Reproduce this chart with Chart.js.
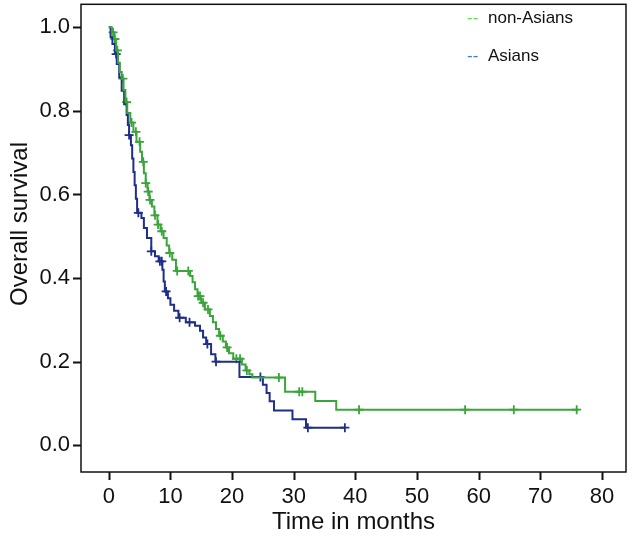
<!DOCTYPE html>
<html>
<head>
<meta charset="utf-8">
<script src="https://cdn.jsdelivr.net/npm/chart.js@4"></script>
<style>
html, body { margin: 0; padding: 0; background: #fff; overflow: hidden; }
/* shifted up 2px so the frame top sits at the very top like the original */
#wrap { width: 636px; height: 543px; margin-top: -2px; }
</style>
</head>
<body>
<div id="wrap"><canvas id="km"></canvas></div>
<script>
// non-Asians: step times (months) and survival after each step
const nonAsianTimes = [0, 0.5, 0.9, 1.2, 1.5, 1.8, 2.1, 2.4, 2.7, 3.0,
    3.5, 4.0, 4.5, 5.1, 5.4, 5.7, 6.0, 6.3, 6.6, 7.0,
    7.4, 7.9, 8.4, 8.9, 9.4, 9.8, 10.3, 10.9, 13.2, 13.6,
    14.0, 14.4, 15.0, 15.6, 16.4, 16.9, 17.4, 17.9, 18.5, 19.0,
    19.5, 20.2, 21.6, 22.2, 22.8, 23.3, 28.6, 33.5, 36.9];
const nonAsianSurv = [1.0, 0.988, 0.972, 0.945, 0.915, 0.893, 0.877, 0.85, 0.821, 0.795,
    0.772, 0.75, 0.726, 0.702, 0.678, 0.651, 0.627, 0.607, 0.587, 0.571,
    0.55, 0.528, 0.512, 0.496, 0.478, 0.46, 0.444, 0.417, 0.405, 0.39,
    0.373, 0.357, 0.341, 0.325, 0.309, 0.294, 0.278, 0.262, 0.248, 0.234,
    0.22, 0.207, 0.193, 0.179, 0.17, 0.162, 0.128, 0.106, 0.085];
const nonAsianEnd = 76.2;
const nonAsianCensored = [0.7, 1.0, 1.4, 2.3, 2.9, 3.7, 4.4, 5.0, 5.6, 6.0, 6.4, 6.7, 7.5, 8.0,
    8.6, 9.9, 11.1, 12.9, 14.5, 14.8, 15.3, 16.1, 18.1, 19.2, 20.7, 21.3, 22.4, 27.6,
    30.9, 31.4, 40.6, 57.8, 65.7, 75.9];

// Asians
const asianTimes = [0, 0.3, 0.6, 1.0, 1.3, 1.7, 2.1, 2.5, 2.9, 3.1,
    3.3, 3.6, 3.8, 4.0, 4.2, 4.4, 4.6, 5.3, 5.7, 6.2,
    6.9, 7.5, 8.1, 8.7, 8.9, 9.1, 9.6, 10.0, 10.6, 11.3,
    12.5, 14.0, 14.8, 15.3, 15.8, 16.6, 17.3, 21.2, 25.0, 25.6,
    26.1, 26.8, 29.8, 32.0];
const asianSurv = [1.0, 0.976, 0.96, 0.936, 0.912, 0.88, 0.848, 0.816, 0.79, 0.766,
    0.742, 0.718, 0.686, 0.654, 0.622, 0.59, 0.556, 0.544, 0.52, 0.496,
    0.464, 0.452, 0.44, 0.42, 0.392, 0.368, 0.352, 0.336, 0.322, 0.305,
    0.294, 0.286, 0.274, 0.258, 0.242, 0.218, 0.2, 0.163, 0.145, 0.125,
    0.105, 0.083, 0.062, 0.042];
const asianEnd = 38.3;
const asianCensored = [1.2, 3.3, 4.8, 6.9, 8.3, 8.6, 9.3, 11.5, 13.1, 16.0, 17.4, 24.6, 32.3, 38.3];

const xTicks = [0, 10, 20, 30, 40, 50, 60, 70, 80];
const yTicks = [0, 0.2, 0.4, 0.6, 0.8, 1.0];

const greenLine = '#3aa53a';
const blueLine = '#1f2e88';
const fontFamily = '"Liberation Sans", Arial, Helvetica, sans-serif';

function stepPoints(times, surv, end) {
    const pts = times.map((t, i) => ({ x: t, y: surv[i] }));
    pts.push({ x: end, y: surv[surv.length - 1] });
    return pts;
}

function survAt(times, surv, t) {
    let s = surv[0];
    for (let i = 0; i < times.length; i++) {
        if (times[i] <= t) s = surv[i];
    }
    return s;
}

function censorPoints(cens, times, surv) {
    return cens.map(t => ({ x: t, y: survAt(times, surv, t) }));
}

// frame, outside tick marks, y title and legend
const framePlugin = {
    id: 'frame',
    afterDraw(chart) {
        const { ctx, chartArea: a, scales } = chart;
        ctx.save();
        ctx.strokeStyle = '#111';
        ctx.lineWidth = 1.5;
        ctx.strokeRect(a.left, a.top, a.right - a.left, a.bottom - a.top);

        ctx.beginPath();
        xTicks.forEach(v => {
            const px = Math.round(scales.x.getPixelForValue(v)) + 0.5;
            ctx.moveTo(px, a.bottom);
            ctx.lineTo(px, a.bottom + 8);
        });
        yTicks.forEach(v => {
            const py = Math.round(scales.y.getPixelForValue(v)) + 0.5;
            ctx.moveTo(a.left - 8, py);
            ctx.lineTo(a.left, py);
        });
        ctx.lineWidth = 2;
        ctx.stroke();

        // y axis title
        ctx.fillStyle = '#111';
        ctx.font = '24px ' + fontFamily;
        ctx.textAlign = 'center';
        ctx.textBaseline = 'middle';
        ctx.translate(20, 226);
        ctx.rotate(-Math.PI / 2);
        ctx.fillText('Overall survival', 0, 0);
        ctx.setTransform(1, 0, 0, 1, 0, 0);

        ctx.font = '17px ' + fontFamily;
        ctx.textAlign = 'left';
        const rows = [['non-Asians', '#66dd55', 20], ['Asians', '#3d7fcc', 58]];
        rows.forEach(r => {
            ctx.fillStyle = r[1];
            ctx.fillText('--', 467, r[2]);
            ctx.fillStyle = '#111';
            ctx.fillText(r[0], 488, r[2]);
        });
        ctx.restore();
    }
};

new Chart(document.getElementById('km'), {
    type: 'scatter',
    data: {
        datasets: [
            {
                type: 'line',
                data: stepPoints(nonAsianTimes, nonAsianSurv, nonAsianEnd),
                borderColor: greenLine,
                borderWidth: 2,
                stepped: true,
                pointRadius: 0,
                fill: false
            },
            {
                type: 'line',
                data: stepPoints(asianTimes, asianSurv, asianEnd),
                borderColor: blueLine,
                borderWidth: 2,
                stepped: true,
                pointRadius: 0,
                fill: false
            },
            {
                data: censorPoints(nonAsianCensored, nonAsianTimes, nonAsianSurv),
                pointStyle: 'cross',
                pointRadius: 4.5,
                borderColor: greenLine,
                borderWidth: 1.8,
                backgroundColor: greenLine
            },
            {
                data: censorPoints(asianCensored, asianTimes, asianSurv),
                pointStyle: 'cross',
                pointRadius: 4.5,
                borderColor: blueLine,
                borderWidth: 1.8,
                backgroundColor: blueLine
            }
        ]
    },
    options: {
        responsive: true,
        maintainAspectRatio: false,
        animation: false,
        layout: { padding: { left: 0, right: 10, top: 0, bottom: 0 } },
        plugins: {
            legend: { display: false },
            tooltip: { enabled: false }
        },
        scales: {
            x: {
                type: 'linear',
                min: -4.5,
                max: 83.9,
                afterBuildTicks: s => { s.ticks = xTicks.map(v => ({ value: v })); },
                afterFit: s => { s.height = 69; },
                border: { display: false },
                grid: { drawOnChartArea: false, drawTicks: true, tickLength: 8, color: 'rgba(0,0,0,0)' },
                ticks: { color: '#111', padding: 4, maxRotation: 0, font: { family: fontFamily, size: 22 } },
                title: {
                    display: true,
                    text: 'Time in months',
                    color: '#111',
                    font: { family: fontFamily, size: 24 },
                    padding: { top: 0, bottom: 4 }
                }
            },
            y: {
                min: -0.064,
                max: 1.055,
                afterBuildTicks: s => { s.ticks = yTicks.map(v => ({ value: v })); },
                afterFit: s => { s.width = 81; },
                border: { display: false },
                grid: { drawOnChartArea: false, drawTicks: true, tickLength: 8, color: 'rgba(0,0,0,0)' },
                ticks: {
                    color: '#111',
                    padding: 3,
                    // tiny line height keeps the plot frame up at the top edge
                    font: { family: fontFamily, size: 22, lineHeight: 0.01 },
                    callback: v => v.toFixed(1)
                },
                title: { display: false }
            }
        }
    },
    plugins: [framePlugin]
});
</script>
</body>
</html>
